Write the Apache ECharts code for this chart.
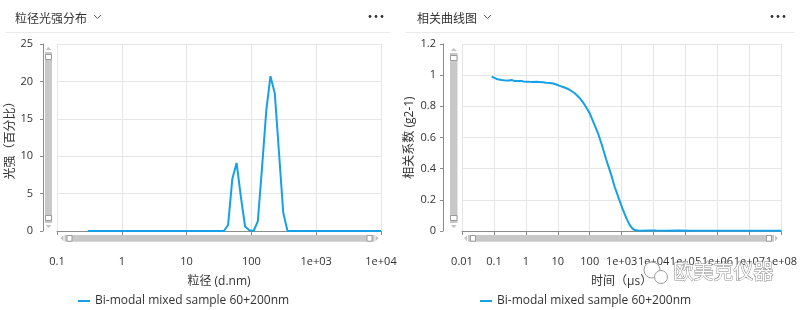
<!DOCTYPE html>
<html><head><meta charset="utf-8">
<script src="https://cdn.jsdelivr.net/npm/echarts@6/dist/echarts.min.js"></script>
<style>html,body{margin:0;padding:0;background:#fff}#c{width:800px;height:310px}</style>
</head><body><div id="c"></div>
<script>
const seriesName = 'Bi-modal mixed sample 60+200nm';

// Left: particle size (d.nm) vs intensity (%)
const sizeNm = [0.3, 37.6, 43.7, 50.8, 59.1, 68.7, 79.9, 92.9, 108, 125.6, 146, 170, 197, 229.6, 267, 310, 361, 10000];
const intensityPct = [0, 0, 0.8, 7.0, 9.1, 4.6, 0.6, 0.1, 0, 1.3, 8.5, 16.2, 20.7, 18.4, 10.4, 2.45, 0, 0];
const sizeTickLabels = ['0.1', '1', '10', '100', '1e+03', '1e+04'];

// Right: correlation curve, time (µs) vs g2-1
const timeUs = [0.085, 0.1, 0.121, 0.145, 0.174, 0.2, 0.25, 0.3, 0.36, 0.43, 0.51, 0.6, 0.73, 0.85, 1.05, 1.3, 1.67, 2.1, 2.7, 3.4, 4.4, 5.6, 7.2, 9, 11.5, 14.7, 18.5, 23.7, 34, 49, 69.8, 100, 135, 182, 250, 331, 455, 603, 834, 1100, 1413, 1780, 2150, 2570, 3200, 4500, 7000, 12000, 25000, 60000, 150000, 500000, 2000000, 10000000, 100000000];
const g2minus1 = [0.990, 0.984, 0.976, 0.972, 0.969, 0.968, 0.965, 0.966, 0.969, 0.963, 0.962, 0.963, 0.962, 0.960, 0.958, 0.957, 0.956, 0.957, 0.956, 0.954, 0.951, 0.949, 0.946, 0.940, 0.931, 0.924, 0.916, 0.905, 0.884, 0.852, 0.809, 0.755, 0.691, 0.627, 0.541, 0.456, 0.370, 0.284, 0.203, 0.135, 0.081, 0.039, 0.017, 0.006, 0.003, 0.002, 0.004, 0.003, 0.002, 0.003, 0.002, 0.002, 0.001, 0.001, 0.001];
const timeTickLabels = ['0.01', '0.1', '1', '10', '100', '1e+03', '1e+04', '1e+05', '1e+06', '1e+07', '1e+08'];

const FONT = '"Open Sans", "Noto Sans CJK SC", sans-serif';
const LINE = '#16a0e6';
const AXIS = '#8c8c8c';
const GRIDC = '#e6e6e6';

function xAxisCfg(gi, min, max, labels, exp0, name) {
  return {
    gridIndex: gi, type: 'log', logBase: 10, min: min, max: max, interval: 1, offset: 17,
    name: name, nameLocation: 'middle', nameGap: 28,
    nameTextStyle: { color: '#333', fontSize: 12, fontFamily: FONT },
    axisLine: { show: true, lineStyle: { color: AXIS } },
    axisTick: { show: true, length: 4, lineStyle: { color: AXIS } },
    axisLabel: { color: '#333', fontSize: 11, margin: 8, fontFamily: FONT, hideOverlap: false,
      formatter: function (v) { return labels[Math.round(Math.log10(v)) - exp0]; } },
    splitLine: { show: true, lineStyle: { color: GRIDC } },
    minorTick: { show: false }, minorSplitLine: { show: false }
  };
}
function yAxisCfg(gi, max, interval, offset, margin, nameGap, name) {
  return {
    gridIndex: gi, type: 'value', min: 0, max: max, interval: interval, offset: offset,
    name: name, nameLocation: 'middle', nameGap: nameGap, nameRotate: 90,
    nameTextStyle: { color: '#333', fontSize: 12, fontFamily: FONT },
    axisLine: { show: true, lineStyle: { color: AXIS } },
    axisTick: { show: true, length: 3, lineStyle: { color: AXIS } },
    axisLabel: { color: '#333', fontSize: 11, margin: margin, fontFamily: FONT },
    splitLine: { show: true, lineStyle: { color: GRIDC } }
  };
}

// decorative scrollbars (like the reference's zoom bars)
const BAR = '#c8c8c8', ARW = '#c4c4c4', HND = '#9a9a9a';
function hScroll(x0, x1, y0, y1) {
  const cy = (y0 + y1) / 2, els = [];
  els.push({ type: 'polygon', shape: { points: [[x0, cy], [x0 + 3, cy - 3], [x0 + 3, cy + 3]] }, style: { fill: ARW } });
  els.push({ type: 'rect', shape: { x: x0 + 4, y: y0, width: x1 - x0 - 8, height: y1 - y0 }, style: { fill: BAR } });
  els.push({ type: 'rect', shape: { x: x0 + 6.5, y: y0 + 0.5, width: 5, height: y1 - y0 - 1 }, style: { fill: '#fff', stroke: HND, lineWidth: 1 } });
  els.push({ type: 'rect', shape: { x: x1 - 11.5, y: y0 + 0.5, width: 5, height: y1 - y0 - 1 }, style: { fill: '#fff', stroke: HND, lineWidth: 1 } });
  els.push({ type: 'polygon', shape: { points: [[x1, cy], [x1 - 3, cy - 3], [x1 - 3, cy + 3]] }, style: { fill: ARW } });
  return els;
}
function vScroll(x0, x1, y0, y1) {
  const cx = (x0 + x1) / 2, els = [];
  els.push({ type: 'polygon', shape: { points: [[cx, y0], [cx - 3, y0 + 3], [cx + 3, y0 + 3]] }, style: { fill: ARW } });
  els.push({ type: 'rect', shape: { x: x0, y: y0 + 5, width: x1 - x0, height: y1 - y0 - 10 }, style: { fill: BAR } });
  els.push({ type: 'rect', shape: { x: x0 + 0.5, y: y0 + 7.5, width: x1 - x0 - 1, height: 5 }, style: { fill: '#fff', stroke: HND, lineWidth: 1 } });
  els.push({ type: 'rect', shape: { x: x0 + 0.5, y: y1 - 12.5, width: x1 - x0 - 1, height: 5 }, style: { fill: '#fff', stroke: HND, lineWidth: 1 } });
  els.push({ type: 'polygon', shape: { points: [[cx, y1], [cx - 3, y1 - 3], [cx + 3, y1 - 3]] }, style: { fill: ARW } });
  return els;
}
function header(x0, x1, chevX, dotsX) {
  return [
    { type: 'line', shape: { x1: x0, y1: 32.5, x2: x1, y2: 32.5 }, style: { stroke: '#ebebeb', lineWidth: 1 } },
    { type: 'polyline', shape: { points: [[chevX, 15], [chevX + 3.5, 18.5], [chevX + 7, 15]] }, style: { stroke: '#555', lineWidth: 1, fill: null } },
    { type: 'circle', shape: { cx: dotsX, cy: 16.5, r: 1.4 }, style: { fill: '#333' } },
    { type: 'circle', shape: { cx: dotsX + 6, cy: 16.5, r: 1.4 }, style: { fill: '#333' } },
    { type: 'circle', shape: { cx: dotsX + 12, cy: 16.5, r: 1.4 }, style: { fill: '#333' } }
  ];
}

const graphics = [].concat(
  header(5, 390, 94, 370), header(405, 795, 484, 772),
  hScroll(60.5, 378.5, 235, 241.7), hScroll(464, 778, 235, 241.7),
  vScroll(45, 52, 47, 228), vScroll(450, 457.5, 48, 228),
  [
    { type: 'circle', shape: { cx: 652, cy: 270, r: 8 }, style: { fill: '#fff', stroke: '#9a9a9a', lineWidth: 1 }, z: 100 },
    { type: 'circle', shape: { cx: 661, cy: 277, r: 6.5 }, style: { fill: '#fff', stroke: '#9a9a9a', lineWidth: 1 }, z: 101 },
    { type: 'text', left: 673, top: 261, z: 100, style: { text: '欧美克仪器', font: '20px "Noto Sans CJK SC"', fill: '#fff', stroke: '#8a8a8a', lineWidth: 1 } }
  ]
);

const chart = echarts.init(document.getElementById('c'), null, { renderer: 'canvas' });
chart.setOption({
  animation: false,
  textStyle: { fontFamily: FONT },
  title: [
    { text: '粒径光强分布', left: 10, top: 9, textStyle: { fontSize: 12, fontWeight: 'normal', color: '#333', fontFamily: FONT } },
    { text: '相关曲线图', left: 412, top: 9, textStyle: { fontSize: 12, fontWeight: 'normal', color: '#333', fontFamily: FONT } }
  ],
  grid: [
    { left: 57, top: 44, width: 324, height: 187 },
    { left: 462, top: 44, width: 320, height: 187 }
  ],
  xAxis: [
    xAxisCfg(0, 0.1, 10000, sizeTickLabels, -1, '粒径 (d.nm)'),
    xAxisCfg(1, 0.01, 100000000, timeTickLabels, -2, '时间（µs）')
  ],
  yAxis: [
    yAxisCfg(0, 25, 5, 14, 10, 20, '光强（百分比）'),
    yAxisCfg(1, 1.2, 0.2, 19, 7, 27, '相关系数 (g2-1)')
  ],
  legend: [
    { left: 73, top: 290, icon: 'rect', itemWidth: 12, itemHeight: 2, itemGap: 10,
      textStyle: { color: '#333', fontSize: 12, fontFamily: FONT }, data: [seriesName], selectedMode: false },
    { left: 475, top: 290, icon: 'rect', itemWidth: 12, itemHeight: 2, itemGap: 10,
      textStyle: { color: '#333', fontSize: 12, fontFamily: FONT }, data: [seriesName], selectedMode: false }
  ],
  series: [
    { name: seriesName, type: 'line', xAxisIndex: 0, yAxisIndex: 0, showSymbol: false, symbol: 'none',
      lineStyle: { color: LINE, width: 2 }, itemStyle: { color: LINE },
      data: sizeNm.map((s, i) => [s, intensityPct[i]]) },
    { name: seriesName, type: 'line', xAxisIndex: 1, yAxisIndex: 1, showSymbol: false, symbol: 'none',
      lineStyle: { color: LINE, width: 2 }, itemStyle: { color: LINE },
      data: timeUs.map((t, i) => [t, g2minus1[i]]) }
  ],
  graphic: graphics
});
</script></body></html>
